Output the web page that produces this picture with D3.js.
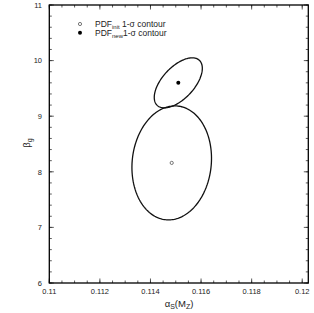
<!DOCTYPE html>
<html><head><meta charset="utf-8">
<script src="https://cdn.jsdelivr.net/npm/d3@7"></script>
<style>body{margin:0;background:#fff}svg{display:block}text{font-family:"Liberation Sans",Arial,sans-serif;fill:#222}</style>
</head><body><svg id="c" width="314" height="313"></svg>
<script>
// Data
const xTicks = [0.11, 0.112, 0.114, 0.116, 0.118, 0.12];
const xTickLabels = ["0.11", "0.112", "0.114", "0.116", "0.118", "0.12"];
const yTicks = [6, 7, 8, 9, 10, 11];
const yTickLabels = ["6", "7", "8", "9", "10", "11"];
const contourNames = ["init", "new"];
const centerX = [0.11484, 0.11510];
const centerY = [8.16, 9.60];
const sigmaX = [0.001573, 0.000950];
const sigmaY = [1.025, 0.45];
const corr = [0.08, 0.58];
const legendSub = ["init", "new"];

const svg = d3.select("#c");
const L = 49.3, R = 308.3, T = 5, B = 283;
const x = d3.scaleLinear().domain([0.11, 0.12024]).range([L, R]);
const y = d3.scaleLinear().domain([6, 11]).range([B, T]);

// minor ticks
const xMinor = d3.range(0, 21).map(i => 0.11 + i * 0.0005);
const yMinor = d3.range(0, 26).map(i => 6 + i * 0.2);
const g = svg.append("g");
function tickLines(vals, isX, len) {
  vals.forEach(v => {
    if (isX) {
      const px = x(v);
      g.append("line").attr("x1", px).attr("x2", px).attr("y1", B).attr("y2", B - len);
      g.append("line").attr("x1", px).attr("x2", px).attr("y1", T).attr("y2", T + len);
    } else {
      const py = y(v);
      g.append("line").attr("x1", L).attr("x2", L + len).attr("y1", py).attr("y2", py);
      g.append("line").attr("x1", R).attr("x2", R - len).attr("y1", py).attr("y2", py);
    }
  });
}
tickLines(xMinor, true, 2.5);
tickLines(xTicks, true, 4.5);
tickLines(yMinor, false, 2.5);
tickLines(yTicks, false, 4.5);
g.selectAll("line").attr("stroke", "#333").attr("stroke-width", 0.8);

// frame
svg.append("rect").attr("x", L).attr("y", T).attr("width", R - L).attr("height", B - T)
  .attr("fill", "none").attr("stroke", "#000").attr("stroke-width", 1.3);

// tick labels
xTicks.forEach((v, i) => {
  svg.append("text").attr("x", x(v)).attr("y", 294).attr("text-anchor", "middle")
    .attr("font-size", 7.5).text(xTickLabels[i]);
});
yTicks.forEach((v, i) => {
  svg.append("text").attr("x", 42).attr("y", y(v) + 2.7).attr("text-anchor", "end")
    .attr("font-size", 7.5).text(yTickLabels[i]);
});

// axis titles
const xt = svg.append("text").attr("x", 179).attr("y", 307).attr("text-anchor", "middle").attr("font-size", 9.5);
xt.append("tspan").text("α");
xt.append("tspan").attr("font-size", 7).attr("dy", 2).text("S");
xt.append("tspan").attr("dy", -2).text("(M");
xt.append("tspan").attr("font-size", 7).attr("dy", 2).text("Z");
xt.append("tspan").attr("dy", -2).text(")");
const yt = svg.append("text").attr("transform", "translate(30,143) rotate(-90)").attr("text-anchor", "middle").attr("font-size", 9.5);
yt.append("tspan").text("β");
yt.append("tspan").attr("font-size", 7).attr("dy", 2).text("g");

// contours (1-sigma ellipse from centre, sigmas and correlation)
const line = d3.line().x(d => x(d[0])).y(d => y(d[1])).curve(d3.curveLinearClosed);
contourNames.forEach((n, i) => {
  const pts = d3.range(0, 200).map(k => {
    const t = 2 * Math.PI * k / 200;
    const r = corr[i];
    return [centerX[i] + sigmaX[i] * Math.cos(t),
            centerY[i] + sigmaY[i] * (r * Math.cos(t) + Math.sqrt(1 - r * r) * Math.sin(t))];
  });
  svg.append("path").attr("d", line(pts)).attr("fill", "none").attr("stroke", "#111").attr("stroke-width", 1.3);
});
// centre points
svg.append("circle").attr("cx", x(centerX[0])).attr("cy", y(centerY[0])).attr("r", 1.6)
  .attr("fill", "#fff").attr("stroke", "#555").attr("stroke-width", 0.8);
svg.append("circle").attr("cx", x(centerX[1])).attr("cy", y(centerY[1])).attr("r", 2)
  .attr("fill", "#000");

// legend
svg.append("circle").attr("cx", 80).attr("cy", 24).attr("r", 1.6).attr("fill", "#fff").attr("stroke", "#555").attr("stroke-width", 0.8);
svg.append("circle").attr("cx", 80).attr("cy", 32.7).attr("r", 2).attr("fill", "#000");
const lt = [" 1-σ contour", "1-σ contour"];
legendSub.forEach((s, i) => {
  const t = svg.append("text").attr("x", 95).attr("y", 27 + i * 8.7).attr("font-size", 8.5);
  t.append("tspan").text("PDF");
  t.append("tspan").attr("font-size", 6).attr("dy", 2).text(s);
  t.append("tspan").attr("dy", -2).text(lt[i]);
});
</script></body></html>
